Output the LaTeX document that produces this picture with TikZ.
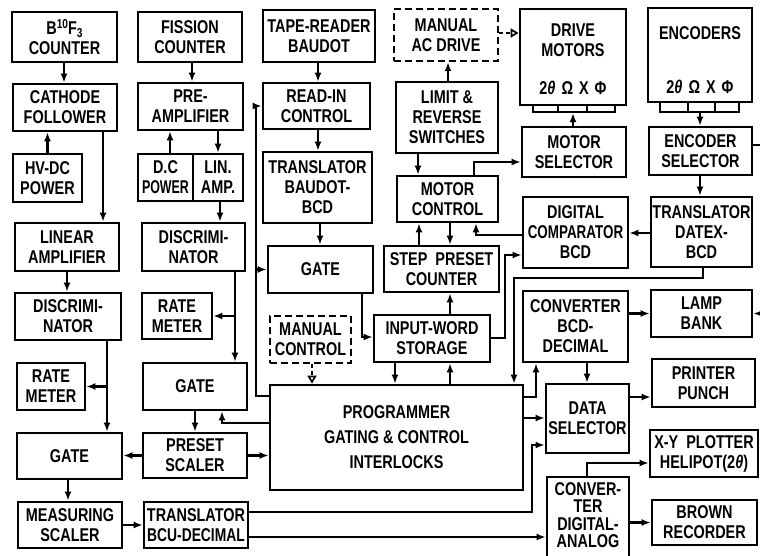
\documentclass[tikz,border=0pt]{standalone}
\usepackage{fontspec}
\usepackage{graphicx}
\setmainfont{Liberation Sans}[FakeStretch=0.78]
\usetikzlibrary{arrows.meta}
\newcommand{\txt}{\fontsize{18.5}{20}\selectfont\bfseries}
\newcommand{\txtt}{\fontsize{18.5}{17.5}\selectfont\bfseries}
\newcommand{\sml}{\fontsize{13}{13}\selectfont}
\tikzset{
  box/.style={draw, line width=2.7pt, inner sep=1pt, align=center, font=\txt},
  dbox/.style={box, line width=2.4pt, dash pattern=on 7pt off 4pt},
  lbl/.style={inner sep=0pt, align=center, font=\txt},
  ln/.style={line width=2.1pt},
  arr/.style={ln, -{Latex[length=9pt,width=7pt]}},
  oarr/.style={line width=1.7pt, dash pattern=on 4pt off 3pt, -{Triangle[open,length=8pt,width=9pt,line width=1.7pt]}},
}
\newcommand{\bx}[6][]{\node[box,#1,minimum width={#4-#2},minimum height={#5-#3}] (#6) at ({(#2+#4)/2},{(#3+#5)/2})}
\begin{document}
\begin{tikzpicture}[x=1pt,y=-1pt]
\useasboundingbox (0,0) rectangle (760,555);
% ---- column 1
\bx{12}{12}{117}{62}{b10}{B\raisebox{6pt}{\sml 10}F\raisebox{-3pt}{\sml 3}\\COUNTER};
\bx{13}{84}{117}{131}{cath}{CATHODE\\FOLLOWER};
\bx{13}{154}{82}{202}{hvdc}{HV-DC\\POWER};
\bx{15}{223}{119}{271}{linamp}{LINEAR\\AMPLIFIER};
\bx{15}{293}{121}{340}{discL}{DISCRIMI-\\NATOR};
\bx{17}{363}{85}{410}{rateL}{RATE\\METER};
\bx{17}{433}{122}{479}{gateL}{GATE};
\bx{18}{502}{122}{548}{meas}{MEASURING\\SCALER};
% ---- column 2
\bx{138}{12}{242}{62}{fiss}{FISSION\\COUNTER};
\bx{138}{83}{243}{130}{pre}{PRE-\\AMPLIFIER};
\bx{138}{154}{193}{201}{dcp}{D.C\\\scalebox{0.86}[1]{POWER}};
\bx{193}{154}{243}{201}{lin}{LIN.\\AMP.};
\bx{142}{223}{245}{271}{discM}{DISCRIMI-\\NATOR};
\bx{142}{293}{212}{339}{rateM}{RATE\\METER};
\bx{143}{363}{247}{410}{gateM}{GATE};
\bx{143}{433}{247}{478}{preset}{PRESET\\SCALER};
\bx{144}{502}{248}{548}{transBCU}{TRANSLATOR\\\scalebox{0.96}[1]{BCU-DECIMAL}};
% ---- column 3
\bx{263}{10}{375}{62}{tape}{TAPE-READER\\BAUDOT};
\bx{263}{83}{370}{129}{readin}{READ-IN\\CONTROL};
\bx{263}{152}{372}{223}{transB}{TRANSLATOR\\BAUDOT-\\BCD};
\bx{268}{246}{373}{293}{gateC}{GATE};
\bx[dbox]{270}{316}{351}{363}{manual}{MANUAL\\CONTROL};
\bx{270}{385}{523}{490}{prog}{PROGRAMMER\\[5pt]GATING \& CONTROL\\[5pt]INTERLOCKS};
% ---- column 4
\bx[dbox]{394}{9}{498}{61}{acdrive}{MANUAL\\AC DRIVE};
\bx{396}{82}{498}{153}{limit}{LIMIT \&\\REVERSE\\SWITCHES};
\bx{397}{176}{498}{222}{motorc}{MOTOR\\CONTROL};
\bx{384}{246}{499}{292}{step}{STEP\ \ PRESET\\COUNTER};
\bx{374}{315}{490}{362}{input}{INPUT-WORD\\STORAGE};
% ---- column 5
\bx{520}{9}{626}{105}{drive}{};
\node[lbl] (drivelbl) at (573,40) {DRIVE\\MOTORS};
\node[lbl] (drivesym) at (573,88) {2\textit{θ}\hspace{6pt}Ω\hspace{6pt}X\hspace{6pt}Φ};
\bx[line width=2.2pt]{533}{105}{615}{112}{dbar}{};
\draw[line width=2.2pt] (558,105) -- (558,112) (587,105) -- (587,112);
\bx{522}{127}{626}{177}{motsel}{MOTOR\\SELECTOR};
\bx{523}{197}{628}{268}{comp}{DIGITAL\\\scalebox{0.93}[1]{COMPARATOR}\\BCD};
\bx{523}{291}{628}{362}{convBD}{CONVERTER\\BCD-\\DECIMAL};
\bx{546}{384}{629}{453}{datasel}{DATA\\SELECTOR};
\bx[font=\txtt]{547}{477}{629}{558}{convDA}{};
\node[lbl, font=\txtt, anchor=north] (convDAlbl) at (588,482) {CONVER-\\TER\\DIGITAL-\\ANALOG};
% ---- column 6
\bx{648}{8}{752}{102}{enc}{};
\node[lbl] (enclbl) at (700,33) {ENCODERS};
\node[lbl] (encsym) at (700,87) {2\textit{θ}\hspace{6pt}Ω\hspace{6pt}X\hspace{6pt}Φ};
\bx[line width=2.2pt]{660}{102}{739}{112}{ebar}{};
\draw[line width=2.2pt] (688,102) -- (688,112) (715,102) -- (715,112);
\bx{649}{127}{752}{175}{encsel}{ENCODER\\SELECTOR};
\bx{651}{197}{752}{267}{transD}{TRANSLATOR\\DATEX-\\BCD};
\bx{651}{290}{752}{337}{lamp}{LAMP\\BANK};
\bx{652}{359}{755}{407}{printer}{PRINTER\\PUNCH};
\bx{650}{430}{758}{477}{xy}{X-Y\ \ PLOTTER\\HELIPOT(2\textit{θ})};
\bx{652}{500}{757}{545}{brown}{BROWN\\RECORDER};
\coordinate (encout) at (762,145);
\coordinate (lampin) at (762,313.5);
% ---- connectors column 1
\draw[arr] (b10.south -| 64,0) -- (cath.north -| 64,0);
\draw[arr] (hvdc.north) -- (hvdc.north |- cath.south);
\draw[arr] (cath.south -| 103,0) -- (linamp.north -| 103,0);
\draw[arr] (linamp.south -| 67,0) -- (discL.north -| 67,0);
\draw[arr] (discL.south -| 107,0) -- (gateL.north -| 107,0);
\draw[arr] (rateL.east -| 107,0) -- (rateL.east);
\draw[arr] (gateL.south -| 68,0) -- (meas.north -| 68,0);
\draw[arr] (meas.east) -- (transBCU.west);
\draw[arr] (preset.west) -- (gateL.east |- preset.west);
\draw[arr] (preset.east) -- (prog.west |- preset.east);
% ---- connectors column 2
\draw[arr] (fiss.south -| 192,0) -- (pre.north -| 192,0);
\draw[arr] (dcp.north -| 170,0) -- (pre.south -| 170,0);
\draw[arr] (pre.south -| 218,0) -- (lin.north -| 218,0);
\draw[arr] (lin.south -| 220,0) -- (discM.north -| 220,0);
\draw[arr] (discM.south -| 235,0) -- (gateM.north -| 235,0);
\draw[arr] (rateM.east -| 235,0) -- (rateM.east);
\draw[arr] (gateM.south) -- (preset.north);
\draw[arr] (prog.west |- 0,423) -| (gateM.south -| 222,0);
% ---- connectors column 3
\draw[arr] (prog.west |- 0,396) -- (256,396) |- (readin.west);
\draw[arr] (256,0 |- gateC.west) -- (gateC.west);
\draw[arr] (tape.south -| 318,0) -- (readin.north -| 318,0);
\draw[arr] (readin.south -| 318,0) -- (transB.north -| 318,0);
\draw[arr] (transB.south -| 320,0) -- (gateC.north -| 320,0);
\draw[arr] (gateC.south -| 362,0) |- (input.west |- 0,337);
\draw[oarr] (manual.south -| 312,0) -- (prog.north -| 312,0);
% ---- connectors column 4
\draw[arr] (input.north -| 450,0) -- (step.south -| 450,0);
\draw[arr] (step.north -| 419,0) -- (motorc.south -| 419,0);
\draw[arr] (motorc.south -| 450,0) -- (step.north -| 450,0);
\draw[arr] (limit.south -| 418,0) -- (motorc.north -| 418,0);
\draw[arr] (limit.north -| 448,0) -- (acdrive.south -| 448,0);
\draw[oarr] (acdrive.east |- 0,33) -- (drive.west |- 0,33);
\draw[arr] (motorc.north -| 474,0) |- (motsel.west |- 0,162);
\draw[arr] (input.south -| 395,0) -- (prog.north -| 395,0);
\draw[arr] (prog.north -| 450,0) -- (input.south -| 450,0);
% ---- connectors right
\draw[arr] (motsel.north -| 573,0) -- (dbar.south -| 573,0);
\draw[arr] (ebar.south -| 700,0) -- (encsel.north -| 700,0);
\draw[arr] (encsel.south -| 700,0) -- (transD.north -| 700,0);
\draw[ln] (encsel.east |- encout) -- (encout);
\draw[arr] (transD.west |- 0,233) -- (comp.east |- 0,233);
\draw[arr] (transD.south -| 703,0) |- (514,278) -- (prog.north -| 514,0);
\draw[arr] (comp.west |- 0,235) -| (motorc.south -| 476,0);
\draw[arr] (input.east |- 0,338) -| (505,255) -- (comp.west |- 0,255);
\draw[arr] (convBD.east |- lamp.west) -- (lamp.west);
\draw[arr] (lampin) -- (lamp.east);
\draw[arr] (prog.east |- 0,397) -| (convBD.south -| 536,0);
\draw[arr] (convBD.south -| 587,0) -- (datasel.north -| 587,0);
\draw[arr] (prog.east |- 0,418) -- (datasel.west |- 0,418);
\draw[arr] (transBCU.east |- 0,512) -| (532,445) -- (datasel.west |- 0,445);
\draw[arr] (transBCU.east |- 0,537) -- (convDA.west |- 0,537);
\draw[arr] (datasel.east |- 0,397) -- (printer.west |- 0,397);
\draw[arr] (convDA.north -| 587,0) |- (xy.west |- 0,463);
\draw[arr] (convDA.east |- brown.west) -- (brown.west);
\end{tikzpicture}
\end{document}
